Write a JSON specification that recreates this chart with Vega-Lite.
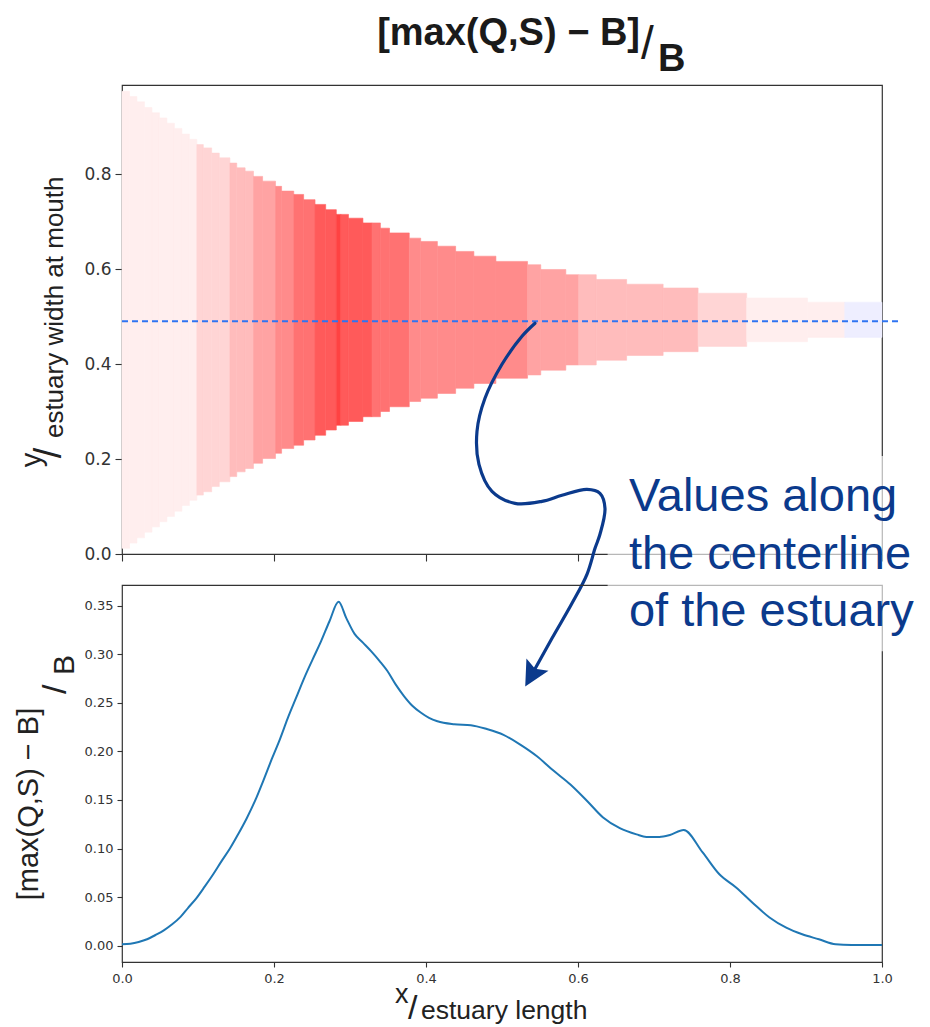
{
  "$schema": "https://vega.github.io/schema/vega-lite/v6.json",
  "background": "white",
  "padding": {"left": 14, "top": 14, "right": 0, "bottom": 2},
  "autosize": {"type": "pad"},
  "spacing": 31,
  "bounds": "flush",
  "config": {
    "view": {"stroke": "#333333", "strokeWidth": 1.2},
    "axis": {"domain": false, "grid": false, "tickColor": "#333333", "labelColor": "#333333", "labelFont": "DejaVu Sans", "tickWidth": 1.1, "labelFlush": false}
  },
  "datasets": {
    "estuary": [
      {"x0": 0, "x1": 0.0099, "bot": 0.012, "top": 0.974, "lev": 0},
      {"x0": 0.0099, "x1": 0.0197, "bot": 0.023, "top": 0.963, "lev": 0},
      {"x0": 0.0197, "x1": 0.0296, "bot": 0.034, "top": 0.952, "lev": 0},
      {"x0": 0.0296, "x1": 0.0394, "bot": 0.046, "top": 0.940, "lev": 0},
      {"x0": 0.0394, "x1": 0.0493, "bot": 0.057, "top": 0.929, "lev": 0},
      {"x0": 0.0493, "x1": 0.0591, "bot": 0.068, "top": 0.918, "lev": 0},
      {"x0": 0.0591, "x1": 0.069, "bot": 0.079, "top": 0.907, "lev": 0},
      {"x0": 0.069, "x1": 0.0788, "bot": 0.090, "top": 0.896, "lev": 0},
      {"x0": 0.0788, "x1": 0.0887, "bot": 0.102, "top": 0.884, "lev": 0},
      {"x0": 0.0887, "x1": 0.0985, "bot": 0.113, "top": 0.873, "lev": 0},
      {"x0": 0.0985, "x1": 0.107, "bot": 0.124, "top": 0.862, "lev": 1},
      {"x0": 0.107, "x1": 0.118, "bot": 0.131, "top": 0.855, "lev": 1},
      {"x0": 0.118, "x1": 0.128, "bot": 0.142, "top": 0.844, "lev": 1},
      {"x0": 0.128, "x1": 0.142, "bot": 0.152, "top": 0.834, "lev": 1},
      {"x0": 0.142, "x1": 0.151, "bot": 0.163, "top": 0.823, "lev": 2},
      {"x0": 0.151, "x1": 0.162, "bot": 0.173, "top": 0.813, "lev": 2},
      {"x0": 0.162, "x1": 0.173, "bot": 0.180, "top": 0.806, "lev": 2},
      {"x0": 0.173, "x1": 0.185, "bot": 0.191, "top": 0.795, "lev": 3},
      {"x0": 0.185, "x1": 0.202, "bot": 0.201, "top": 0.785, "lev": 3},
      {"x0": 0.202, "x1": 0.210, "bot": 0.212, "top": 0.774, "lev": 4},
      {"x0": 0.210, "x1": 0.226, "bot": 0.222, "top": 0.764, "lev": 4},
      {"x0": 0.226, "x1": 0.239, "bot": 0.229, "top": 0.757, "lev": 5},
      {"x0": 0.239, "x1": 0.254, "bot": 0.240, "top": 0.746, "lev": 5},
      {"x0": 0.254, "x1": 0.268, "bot": 0.250, "top": 0.736, "lev": 6},
      {"x0": 0.268, "x1": 0.282, "bot": 0.261, "top": 0.725, "lev": 6},
      {"x0": 0.282, "x1": 0.288, "bot": 0.271, "top": 0.715, "lev": 7},
      {"x0": 0.288, "x1": 0.298, "bot": 0.271, "top": 0.715, "lev": 6},
      {"x0": 0.298, "x1": 0.317, "bot": 0.279, "top": 0.707, "lev": 6},
      {"x0": 0.317, "x1": 0.329, "bot": 0.289, "top": 0.697, "lev": 6},
      {"x0": 0.329, "x1": 0.340, "bot": 0.289, "top": 0.697, "lev": 5},
      {"x0": 0.340, "x1": 0.352, "bot": 0.300, "top": 0.686, "lev": 5},
      {"x0": 0.352, "x1": 0.378, "bot": 0.310, "top": 0.676, "lev": 5},
      {"x0": 0.378, "x1": 0.393, "bot": 0.321, "top": 0.665, "lev": 4},
      {"x0": 0.393, "x1": 0.415, "bot": 0.328, "top": 0.658, "lev": 4},
      {"x0": 0.415, "x1": 0.439, "bot": 0.338, "top": 0.648, "lev": 4},
      {"x0": 0.439, "x1": 0.463, "bot": 0.349, "top": 0.637, "lev": 4},
      {"x0": 0.463, "x1": 0.492, "bot": 0.359, "top": 0.627, "lev": 4},
      {"x0": 0.492, "x1": 0.5336, "bot": 0.370, "top": 0.616, "lev": 4},
      {"x0": 0.5336, "x1": 0.551, "bot": 0.377, "top": 0.609, "lev": 3},
      {"x0": 0.551, "x1": 0.584, "bot": 0.387, "top": 0.599, "lev": 3},
      {"x0": 0.584, "x1": 0.601, "bot": 0.398, "top": 0.588, "lev": 3},
      {"x0": 0.601, "x1": 0.624, "bot": 0.398, "top": 0.588, "lev": 2},
      {"x0": 0.624, "x1": 0.664, "bot": 0.408, "top": 0.578, "lev": 2},
      {"x0": 0.664, "x1": 0.712, "bot": 0.418, "top": 0.568, "lev": 2},
      {"x0": 0.712, "x1": 0.758, "bot": 0.426, "top": 0.560, "lev": 2},
      {"x0": 0.758, "x1": 0.822, "bot": 0.437, "top": 0.549, "lev": 1},
      {"x0": 0.822, "x1": 0.902, "bot": 0.447, "top": 0.539, "lev": 0},
      {"x0": 0.902, "x1": 0.951, "bot": 0.456, "top": 0.530, "lev": 0},
      {"x0": 0.951, "x1": 1.0, "bot": 0.456, "top": 0.530, "lev": -1}
    ],
    "centerline": [
      {"x": 0, "v": 0.0014}, {"x": 0.011, "v": 0.002}, {"x": 0.022, "v": 0.0038}, {"x": 0.033, "v": 0.0066},
      {"x": 0.044, "v": 0.011}, {"x": 0.055, "v": 0.0158}, {"x": 0.066, "v": 0.022}, {"x": 0.077, "v": 0.0297},
      {"x": 0.087, "v": 0.039}, {"x": 0.098, "v": 0.049}, {"x": 0.109, "v": 0.061}, {"x": 0.120, "v": 0.0735},
      {"x": 0.131, "v": 0.087}, {"x": 0.142, "v": 0.100}, {"x": 0.153, "v": 0.115}, {"x": 0.164, "v": 0.131},
      {"x": 0.175, "v": 0.149}, {"x": 0.186, "v": 0.170}, {"x": 0.197, "v": 0.192}, {"x": 0.208, "v": 0.213},
      {"x": 0.218, "v": 0.234}, {"x": 0.229, "v": 0.255}, {"x": 0.240, "v": 0.276}, {"x": 0.251, "v": 0.295},
      {"x": 0.262, "v": 0.3135}, {"x": 0.273, "v": 0.334}, {"x": 0.285, "v": 0.354}, {"x": 0.295, "v": 0.3375},
      {"x": 0.306, "v": 0.321}, {"x": 0.317, "v": 0.312}, {"x": 0.328, "v": 0.303}, {"x": 0.339, "v": 0.293},
      {"x": 0.349, "v": 0.283}, {"x": 0.360, "v": 0.269}, {"x": 0.371, "v": 0.257}, {"x": 0.382, "v": 0.247},
      {"x": 0.393, "v": 0.240}, {"x": 0.404, "v": 0.2345}, {"x": 0.415, "v": 0.231}, {"x": 0.437, "v": 0.228},
      {"x": 0.459, "v": 0.227}, {"x": 0.480, "v": 0.223}, {"x": 0.502, "v": 0.217}, {"x": 0.524, "v": 0.207},
      {"x": 0.546, "v": 0.195}, {"x": 0.568, "v": 0.180}, {"x": 0.590, "v": 0.166}, {"x": 0.612, "v": 0.149},
      {"x": 0.633, "v": 0.132}, {"x": 0.655, "v": 0.121}, {"x": 0.677, "v": 0.1146}, {"x": 0.690, "v": 0.112},
      {"x": 0.707, "v": 0.112}, {"x": 0.721, "v": 0.114}, {"x": 0.739, "v": 0.119}, {"x": 0.764, "v": 0.096},
      {"x": 0.786, "v": 0.0735}, {"x": 0.808, "v": 0.060}, {"x": 0.830, "v": 0.044}, {"x": 0.852, "v": 0.029},
      {"x": 0.874, "v": 0.0185}, {"x": 0.895, "v": 0.0117}, {"x": 0.917, "v": 0.0066}, {"x": 0.939, "v": 0.0014},
      {"x": 0.960, "v": 0.0008}, {"x": 1.0, "v": 0.0007}
    ],
    "arrow": [
      {"i": 1, "ax": 0.5434, "ay": 0.4857}, {"i": 2, "ax": 0.5263, "ay": 0.4583}, {"i": 3, "ax": 0.5, "ay": 0.3994},
      {"i": 4, "ax": 0.4776, "ay": 0.3278}, {"i": 5, "ax": 0.4671, "ay": 0.2583}, {"i": 6, "ax": 0.4697, "ay": 0.1888},
      {"i": 7, "ax": 0.4868, "ay": 0.132}, {"i": 8, "ax": 0.5171, "ay": 0.1067}, {"i": 9, "ax": 0.5526, "ay": 0.1109},
      {"i": 10, "ax": 0.5789, "ay": 0.1236}, {"i": 11, "ax": 0.6118, "ay": 0.1362}, {"i": 12, "ax": 0.6289, "ay": 0.1278},
      {"i": 13, "ax": 0.6355, "ay": 0.0962}, {"i": 14, "ax": 0.6289, "ay": 0.0415}, {"i": 15, "ax": 0.6224, "ay": 0.012},
      {"i": 16, "ax": 0.6118, "ay": -0.0427}, {"i": 17, "ax": 0.5921, "ay": -0.1038}, {"i": 18, "ax": 0.5658, "ay": -0.1775},
      {"i": 19, "ax": 0.5395, "ay": -0.2533}
    ]
  },
  "vconcat": [
    {
      "width": 760,
      "height": 469,
      "layer": [
        {
          "data": {"name": "estuary"},
          "mark": {"type": "rect", "strokeWidth": 0.6},
          "encoding": {
            "x": {"field": "x0", "type": "quantitative", "scale": {"domain": [0, 1], "nice": false, "zero": false},
                  "axis": {"values": [0, 0.2, 0.4, 0.6, 0.8, 1.0], "labels": false, "tickSize": 7, "title": null}},
            "x2": {"field": "x1"},
            "y": {"field": "bot", "type": "quantitative", "scale": {"domain": [0, 0.9874], "nice": false, "zero": false},
                  "axis": {"values": [0, 0.2, 0.4, 0.6, 0.8], "format": ".1f", "labelFontSize": 17, "tickSize": 7, "labelPadding": 4, "title": null}},
            "y2": {"field": "top"},
            "color": {"field": "lev", "type": "ordinal", "legend": null,
                      "scale": {"domain": [-1, 0, 1, 2, 3, 4, 5, 6, 7], "range": ["#eeeeff", "#ffeeee", "#ffd5d5", "#ffbcbc", "#ffa3a3", "#ff8b8b", "#ff7272", "#ff5a5a", "#ff4242"]}},
            "stroke": {"field": "lev", "type": "ordinal", "legend": null,
                      "scale": {"domain": [-1, 0, 1, 2, 3, 4, 5, 6, 7], "range": ["#eeeeff", "#ffeeee", "#ffd5d5", "#ffbcbc", "#ffa3a3", "#ff8b8b", "#ff7272", "#ff5a5a", "#ff4242"]}}
          }
        },
        {
          "data": {"values": [{}]},
          "mark": {"type": "rule", "color": "#2f74f2", "strokeDash": [6, 4], "strokeWidth": 1.8},
          "encoding": {"x": {"datum": 0}, "x2": {"datum": 1.024}, "y": {"datum": 0.49}}
        },
        {
          "data": {"name": "arrow"},
          "mark": {"type": "line", "interpolate": "catmull-rom", "color": "#0b3a8c", "strokeWidth": 3.2, "strokeCap": "round"},
          "encoding": {
            "x": {"field": "ax", "type": "quantitative"},
            "y": {"field": "ay", "type": "quantitative"},
            "order": {"field": "i", "type": "quantitative"}
          }
        },
        {
          "data": {"values": [{}]},
          "mark": {"type": "point", "shape": "M0,1L-0.9,-0.8L0,-0.45L0.9,-0.8Z", "filled": true, "color": "#0b3a8c", "size": 784, "angle": 29, "opacity": 1},
          "encoding": {"x": {"datum": 0.5395}, "y": {"datum": -0.2533}}
        },
        {
          "data": {"values": [{}]},
          "mark": {"type": "text", "text": "[max(Q,S) − B]", "font": "Liberation Sans", "fontWeight": "bold", "fontSize": 38, "align": "right", "baseline": "alphabetic", "color": "#1a1a1a"},
          "encoding": {"x": {"datum": 0.6816}, "y": {"datum": 1.0709}}
        },
        {
          "data": {"values": [{}]},
          "mark": {"type": "text", "text": "/", "font": "Liberation Sans", "fontSize": 46, "align": "left", "baseline": "alphabetic", "color": "#1a1a1a"},
          "encoding": {"x": {"datum": 0.6829}, "y": {"datum": 1.043}}
        },
        {
          "data": {"values": [{}]},
          "mark": {"type": "text", "text": "B", "font": "Liberation Sans", "fontWeight": "bold", "fontSize": 38, "align": "left", "baseline": "alphabetic", "color": "#1a1a1a"},
          "encoding": {"x": {"datum": 0.7053}, "y": {"datum": 1.016}}
        },
        {
          "data": {"values": [{}]},
          "mark": {"type": "text", "text": "y", "font": "Liberation Sans", "fontSize": 29, "angle": 270, "align": "left", "baseline": "alphabetic", "color": "#222222"},
          "encoding": {"x": {"datum": -0.1066}, "y": {"datum": 0.1825}}
        },
        {
          "data": {"values": [{}]},
          "mark": {"type": "text", "text": "/", "font": "Liberation Sans", "fontSize": 38, "angle": 270, "align": "left", "baseline": "alphabetic", "color": "#222222"},
          "encoding": {"x": {"datum": -0.0803}, "y": {"datum": 0.2015}}
        },
        {
          "data": {"values": [{}]},
          "mark": {"type": "text", "text": "estuary width at mouth", "font": "Liberation Sans", "fontSize": 26, "angle": 270, "align": "center", "baseline": "alphabetic", "color": "#222222"},
          "encoding": {"x": {"datum": -0.0776}, "y": {"datum": 0.5194}}
        }
      ]
    },
    {
      "width": 760,
      "height": 377,
      "layer": [
        {
          "data": {"name": "centerline"},
          "mark": {"type": "line", "color": "#1f77b4", "strokeWidth": 2, "interpolate": "monotone"},
          "encoding": {
            "x": {"field": "x", "type": "quantitative", "scale": {"domain": [0, 1], "nice": false, "zero": false},
                  "axis": {"values": [0, 0.2, 0.4, 0.6, 0.8, 1.0], "format": ".1f", "labelFontSize": 13, "tickSize": 5, "labelPadding": 5, "title": null}},
            "y": {"field": "v", "type": "quantitative", "scale": {"domain": [-0.0168, 0.3713], "nice": false, "zero": false},
                  "axis": {"values": [0, 0.05, 0.1, 0.15, 0.2, 0.25, 0.3, 0.35], "format": ".2f", "labelFontSize": 13, "tickSize": 5, "labelPadding": 4, "title": null}}
          }
        },
        {
          "data": {"values": [{}]},
          "mark": {"type": "rect", "color": "white", "opacity": 0.65},
          "encoding": {"x": {"datum": 0.639}, "x2": {"datum": 1.059}, "y": {"datum": 0.303}, "y2": {"datum": 0.504}}
        },
        {
          "data": {"values": [{}]},
          "mark": {"type": "text", "text": ["Values along", "the centerline", "of the estuary"], "font": "Liberation Sans", "fontSize": 47, "lineHeight": 57.5, "align": "left", "baseline": "alphabetic", "color": "#0b3a8c"},
          "encoding": {"x": {"datum": 0.667}, "y": {"datum": 0.447}}
        },
        {
          "data": {"values": [{}]},
          "mark": {"type": "text", "text": "x", "font": "Liberation Sans", "fontSize": 27, "align": "left", "baseline": "alphabetic", "color": "#222222"},
          "encoding": {"x": {"datum": 0.3592}, "y": {"datum": -0.059}}
        },
        {
          "data": {"values": [{}]},
          "mark": {"type": "text", "text": "/", "font": "Liberation Sans", "fontSize": 34, "align": "left", "baseline": "alphabetic", "color": "#222222"},
          "encoding": {"x": {"datum": 0.3763}, "y": {"datum": -0.0754}}
        },
        {
          "data": {"values": [{}]},
          "mark": {"type": "text", "text": "estuary length", "font": "Liberation Sans", "fontSize": 26.5, "align": "left", "baseline": "alphabetic", "color": "#222222"},
          "encoding": {"x": {"datum": 0.3934}, "y": {"datum": -0.0754}}
        },
        {
          "data": {"values": [{}]},
          "mark": {"type": "text", "text": "[max(Q,S) − B]", "font": "Liberation Sans", "fontSize": 29, "angle": 270, "align": "center", "baseline": "alphabetic", "color": "#222222"},
          "encoding": {"x": {"datum": -0.1105}, "y": {"datum": 0.1458}}
        },
        {
          "data": {"values": [{}]},
          "mark": {"type": "text", "text": "/", "font": "Liberation Sans", "fontSize": 34, "angle": 270, "align": "left", "baseline": "alphabetic", "color": "#222222"},
          "encoding": {"x": {"datum": -0.074}, "y": {"datum": 0.2591}}
        },
        {
          "data": {"values": [{}]},
          "mark": {"type": "text", "text": "B", "font": "Liberation Sans", "fontSize": 30, "angle": 270, "align": "left", "baseline": "alphabetic", "color": "#222222"},
          "encoding": {"x": {"datum": -0.063}, "y": {"datum": 0.2786}}
        }
      ]
    }
  ]
}
